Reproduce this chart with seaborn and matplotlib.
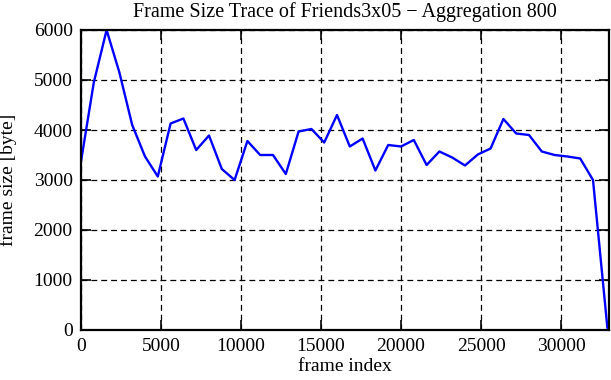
import matplotlib
matplotlib.use("Agg")
import matplotlib.pyplot as plt
import seaborn as sns
import pandas as pd

# frame index (every 800 frames) and aggregated frame size in byte
frame_index = [0, 800, 1600, 2400, 3200, 4000, 4800, 5600, 6400, 7200,
               8000, 8800, 9600, 10400, 11200, 12000, 12800, 13600, 14400, 15200,
               16000, 16800, 17600, 18400, 19200, 20000, 20800, 21600, 22400, 23200,
               24000, 24800, 25600, 26400, 27200, 28000, 28800, 29600, 30400, 31200,
               32000, 32900]
frame_size = [3370, 4950, 6000, 5150, 4100, 3470, 3070, 4130, 4230, 3600,
              3890, 3220, 3000, 3780, 3500, 3500, 3120, 3970, 4020, 3750,
              4300, 3670, 3830, 3190, 3700, 3670, 3800, 3300, 3570, 3450,
              3290, 3510, 3630, 4220, 3930, 3900, 3570, 3500, 3470, 3430,
              3000, 40]

df = pd.DataFrame({"frame index": frame_index, "frame size": frame_size})

sns.set_style("ticks")
plt.rcParams['font.family'] = ['Liberation Serif', 'DejaVu Serif']
plt.rcParams['text.color'] = 'black'
plt.rcParams['axes.labelcolor'] = 'black'

fig = plt.figure(figsize=(6.11, 3.8), dpi=100)
ax = fig.add_axes([81 / 611, 50 / 380, 528 / 611, 300 / 380])

sns.lineplot(data=df, x="frame index", y="frame size", color="#0000ff",
             linewidth=1.7, ax=ax)

ax.set_xlim(0, 33000)
ax.set_ylim(0, 6000)
ax.set_xticks(range(0, 30001, 5000))
ax.set_yticks(range(0, 6001, 1000))
ax.grid(True, color="black", linestyle=(0, (4.7, 3.2)), linewidth=0.9)
ax.tick_params(direction="in", length=7, width=1.2, top=True, right=True,
               labelsize=14, pad=6, colors="black")
for s in ax.spines.values():
    s.set_linewidth(1.6)
    s.set_color("black")

ax.set_xlabel("frame index", fontsize=14, labelpad=2, color="black")
ax.set_ylabel("frame size [byte]", fontsize=14, labelpad=12, color="black")
ax.set_title("Frame Size Trace of Friends3x05 \u2212 Aggregation 800",
             fontsize=14.5, pad=9, color="black")

fig.savefig("out.png", dpi=100)
